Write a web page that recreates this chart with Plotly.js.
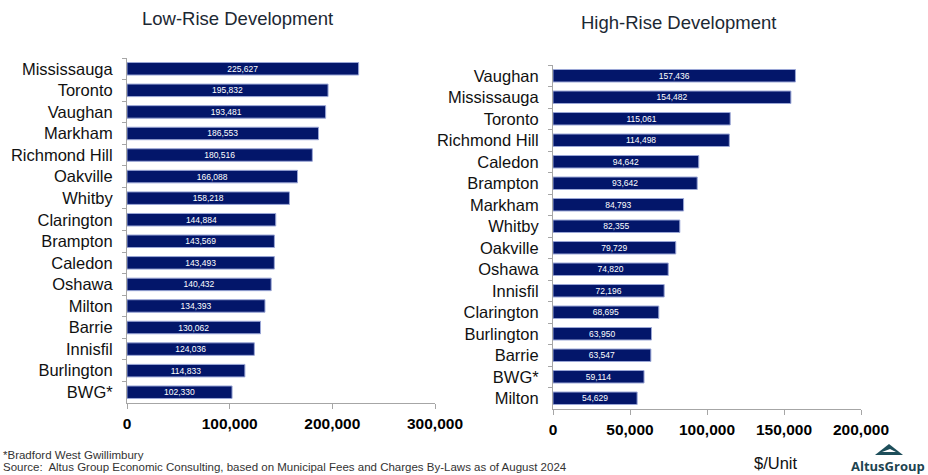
<!DOCTYPE html>
<html>
<head>
<meta charset="utf-8">
<script src="https://cdn.plot.ly/plotly-3.0.1.min.js"></script>
<style>html,body{margin:0;padding:0;background:#fff;}#chart{width:928px;height:475px;}</style>
</head>
<body>
<div id="chart"></div>
<script>
const lowCities = ["Mississauga","Toronto","Vaughan","Markham","Richmond Hill","Oakville","Whitby","Clarington","Brampton","Caledon","Oshawa","Milton","Barrie","Innisfil","Burlington","BWG*"];
const lowValues = [225627,195832,193481,186553,180516,166088,158218,144884,143569,143493,140432,134393,130062,124036,114833,102330];
const highCities = ["Vaughan","Mississauga","Toronto","Richmond Hill","Caledon","Brampton","Markham","Whitby","Oakville","Oshawa","Innisfil","Clarington","Burlington","Barrie","BWG*","Milton"];
const highValues = [157436,154482,115061,114498,94642,93642,84793,82355,79729,74820,72196,68695,63950,63547,59114,54629];
const lowTicks = [0,100000,200000,300000];
const highTicks = [0,50000,100000,150000,200000];

const W = 928, H = 475;
const px = v => v / W, py = v => 1 - v / H;
const FONT = 'Liberation Sans, Arial, sans-serif';

const barStyle = {
  color: '#03166a',
  line: {color: '#9aa6d6', width: 1}
};
function barTrace(cities, values, xa, ya) {
  return {
    type: 'bar', orientation: 'h',
    x: values, y: cities, xaxis: xa, yaxis: ya,
    marker: barStyle,
    texttemplate: '%{x:,}', textposition: 'inside', insidetextanchor: 'middle',
    textangle: 0, constraintext: 'none',
    textfont: {family: FONT, size: 8.5, color: '#ffffff'},
    hoverinfo: 'x+y', showlegend: false
  };
}

const catAxis = (domain, anchor) => ({
  domain: domain, anchor: anchor, type: 'category', autorange: 'reversed',
  showline: true, linecolor: '#a6a6a6', linewidth: 1,
  ticks: 'outside', tickson: 'boundaries', ticklen: 4, tickcolor: '#a6a6a6',
  showgrid: false, zeroline: false, ticklabelstandoff: 10,
  tickfont: {family: FONT, size: 16.5, color: '#111111'}
});
const valAxis = (domain, anchor, ticks, range) => ({
  domain: domain, anchor: anchor, range: range,
  tickvals: ticks, ticktext: ticks.map(v => v.toLocaleString('en-US')),
  showline: true, linecolor: '#a6a6a6', linewidth: 1,
  ticks: 'outside', ticklen: 5, tickcolor: '#a6a6a6',
  showgrid: false, zeroline: false, ticklabelstandoff: 1,
  tickfont: {family: FONT, size: 15.5, color: '#000000', weight: 'bold'}
});

const data = [
  barTrace(lowCities, lowValues, 'x', 'y'),
  barTrace(highCities, highValues, 'x2', 'y2')
];

const layout = {
  width: W, height: H,
  margin: {l: 0, r: 0, t: 0, b: 0, autoexpand: false},
  paper_bgcolor: '#ffffff', plot_bgcolor: '#ffffff',
  bargap: 0.42,
  xaxis: valAxis([px(127), px(435)], 'y', lowTicks, [0, 300000]),
  yaxis: catAxis([py(403), py(58)], 'x'),
  xaxis2: valAxis([px(553), px(861)], 'y2', highTicks, [0, 200000]),
  yaxis2: catAxis([py(409), py(65)], 'x2'),
  annotations: [
    {text: 'Low-Rise Development', xref: 'paper', yref: 'paper', x: px(237), y: py(18),
     xanchor: 'center', yanchor: 'middle', showarrow: false,
     font: {family: FONT, size: 18.5, color: '#1c2833'}},
    {text: 'High-Rise Development', xref: 'paper', yref: 'paper', x: px(678), y: py(23),
     xanchor: 'center', yanchor: 'middle', showarrow: false,
     font: {family: FONT, size: 18.5, color: '#1c2833'}},
    {text: '*Bradford West Gwillimbury', xref: 'paper', yref: 'paper', x: px(1), y: py(455),
     xanchor: 'left', yanchor: 'middle', showarrow: false, align: 'left',
     font: {family: FONT, size: 11.5, color: '#333333'}},
    {text: 'Source:  Altus Group Economic Consulting, based on Municipal Fees and Charges By-Laws as of August 2024', xref: 'paper', yref: 'paper', x: px(1), y: py(467),
     xanchor: 'left', yanchor: 'middle', showarrow: false, align: 'left',
     font: {family: FONT, size: 11.5, color: '#333333'}},
    {text: '$/Unit', xref: 'paper', yref: 'paper', x: px(776), y: py(463),
     xanchor: 'center', yanchor: 'middle', showarrow: false,
     font: {family: FONT, size: 16.5, color: '#111111'}},
    {text: '<b>AltusGroup</b>', xref: 'paper', yref: 'paper', x: px(888), y: py(466),
     xanchor: 'center', yanchor: 'middle', showarrow: false,
     font: {family: 'Open Sans, Liberation Sans, sans-serif', size: 13, color: '#1d4450'}}
  ],
  shapes: [
    {type: 'path', xref: 'paper', yref: 'paper', layer: 'above',
     path: 'M ' + px(875) + ' ' + py(455) + ' L ' + px(889) + ' ' + py(444) + ' L ' + px(903) + ' ' + py(455) + ' Z',
     fillcolor: '#1d4e5a', line: {width: 0}},
    {type: 'path', xref: 'paper', yref: 'paper', layer: 'above',
     path: 'M ' + px(882) + ' ' + py(452) + ' L ' + px(890) + ' ' + py(449) + ' L ' + px(896) + ' ' + py(452) + ' Z',
     fillcolor: '#ffffff', line: {width: 0}}
  ]
};

Plotly.newPlot('chart', data, layout, {displayModeBar: false, staticPlot: true});
</script>
</body>
</html>
